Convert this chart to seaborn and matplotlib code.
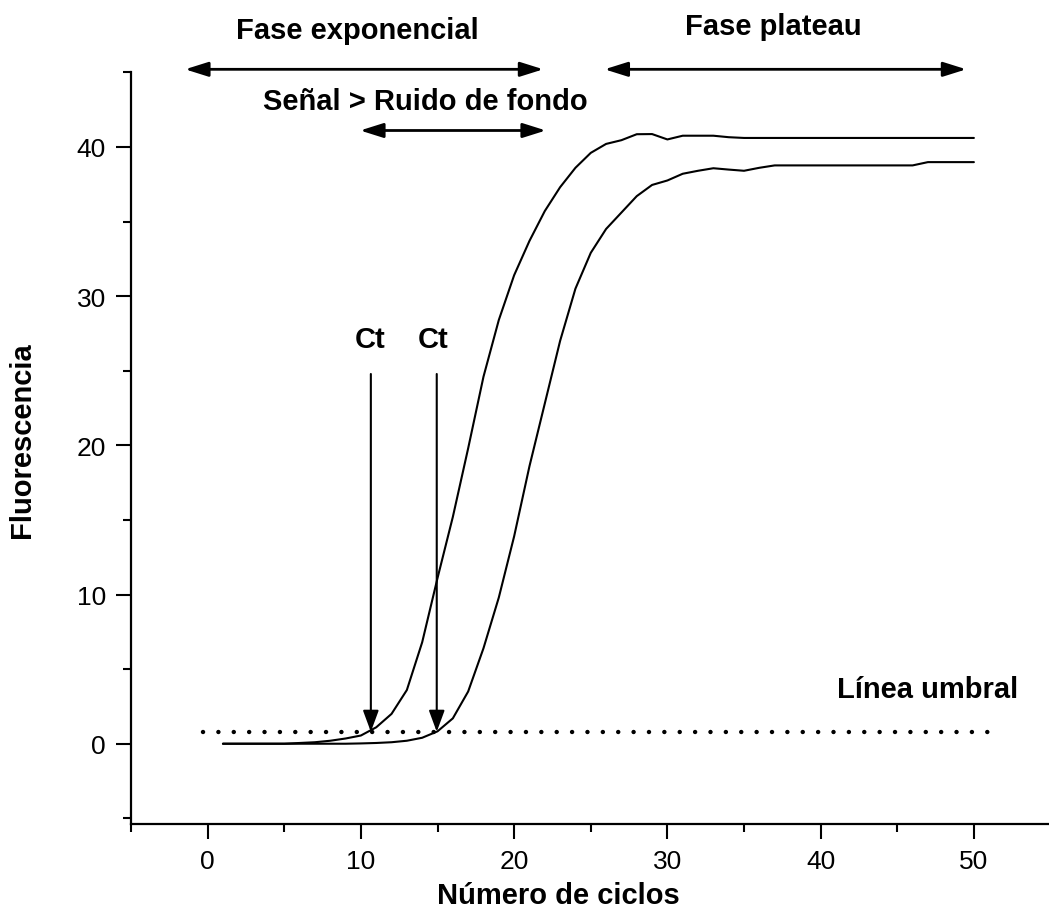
import matplotlib
matplotlib.use("Agg")
import matplotlib.pyplot as plt
from matplotlib.ticker import MultipleLocator
import seaborn as sns
import pandas as pd

sns.set_style("ticks")
plt.rcParams['font.family'] = ['Liberation Sans', 'DejaVu Sans']
plt.rcParams.update({'text.color': 'black', 'axes.labelcolor': 'black',
                     'xtick.color': 'black', 'ytick.color': 'black'})

# Curvas de amplificación (fluorescencia por ciclo)
ciclos = list(range(1, 51))
muestra_a = [0.0, 0.0, 0.0, 0.0, 0.0, 0.05, 0.1, 0.2, 0.35, 0.55,
             1.1, 2.0, 3.6, 6.8, 11.1, 15.2, 19.8, 24.6, 28.4, 31.4,
             33.7, 35.7, 37.3, 38.6, 39.6, 40.2, 40.45, 40.85, 40.86, 40.5,
             40.75, 40.75, 40.75, 40.65, 40.6, 40.6, 40.6, 40.6, 40.6, 40.6,
             40.6, 40.6, 40.6, 40.6, 40.6, 40.6, 40.6, 40.6, 40.6, 40.6]
muestra_b = [0.0, 0.0, 0.0, 0.0, 0.0, 0.0, 0.0, 0.0, 0.0, 0.02,
             0.05, 0.1, 0.2, 0.4, 0.83, 1.7, 3.5, 6.4, 9.8, 13.9,
             18.6, 22.8, 27.0, 30.5, 32.9, 34.5, 35.6, 36.7, 37.45, 37.75,
             38.2, 38.4, 38.57, 38.48, 38.4, 38.6, 38.76, 38.76, 38.76, 38.76,
             38.76, 38.76, 38.76, 38.76, 38.76, 38.76, 38.98, 38.98, 38.98, 38.98]

umbral = 0.8
umbral_x = [-0.3, 51.3]
ct_valores = [10.65, 14.95]

df = pd.DataFrame({
    "Ciclo": ciclos * 2,
    "Fluorescencia": muestra_a + muestra_b,
    "Muestra": ["A"] * len(ciclos) + ["B"] * len(ciclos),
})

fig = plt.figure(figsize=(10.49, 9.2), dpi=100)
ax = fig.add_axes([131 / 1049, 95 / 920, 918 / 1049, 752 / 920])

sns.lineplot(data=df, x="Ciclo", y="Fluorescencia", units="Muestra",
             estimator=None, color="black", linewidth=1.5, ax=ax, legend=False)

# Línea umbral punteada
ax.plot(umbral_x, [umbral, umbral], color="black", linewidth=3.2,
        linestyle=(0, (0.01, 3.45)), dash_capstyle="round")

ax.set_xlim(-5, 54.9)
ax.set_ylim(-5.38, 45.02)
ax.xaxis.set_major_locator(MultipleLocator(10))
ax.xaxis.set_minor_locator(MultipleLocator(5))
ax.yaxis.set_major_locator(MultipleLocator(10))
ax.yaxis.set_minor_locator(MultipleLocator(5))
ax.tick_params(which="major", length=11, width=1.5, labelsize=19, pad=7, color="black")
ax.tick_params(which="minor", length=5.5, width=1.5, color="black")
sns.despine(ax=ax)
for s in ["left", "bottom"]:
    ax.spines[s].set_linewidth(1.6)
    ax.spines[s].set_color("black")

ax.set_xlabel("Número de ciclos", fontsize=21, fontweight="bold")
ax.set_ylabel("Fluorescencia", fontsize=21, fontweight="bold")
ax.xaxis.label.set_va("center")
ax.yaxis.label.set_va("center")
ax.xaxis.set_label_coords(0.466, -0.095)
ax.yaxis.set_label_coords(-0.119, 0.512)

bold = dict(fontsize=21, fontweight="bold", ha="center", clip_on=False)

# Flechas de fases
flecha = dict(arrowstyle="<|-|>,head_length=0.7,head_width=0.22",
              color="black", lw=2, shrinkA=0, shrinkB=0, mutation_scale=20)
ax.annotate("", xy=(-1.47, 45.2), xytext=(21.9, 45.2), arrowprops=flecha,
            annotation_clip=False)
ax.annotate("", xy=(25.9, 45.2), xytext=(49.5, 45.2), arrowprops=flecha,
            annotation_clip=False)
ax.annotate("", xy=(9.95, 41.1), xytext=(22.07, 41.1), arrowprops=flecha,
            annotation_clip=False)

ax.text(9.75, 47.3, "Fase exponencial", va="baseline", **bold)
ax.text(36.9, 47.55, "Fase plateau", va="baseline", **bold)
ax.text(14.2, 43.1, "Señal > Ruido de fondo", va="center", **bold)

# Flechas Ct
flecha_ct = dict(arrowstyle="-|>,head_length=0.65,head_width=0.24",
                 color="black", lw=1.5, shrinkA=0, shrinkB=0, mutation_scale=20)
for ct, xt in zip(ct_valores, [10.6, 14.7]):
    ax.annotate("", xy=(ct, umbral), xytext=(ct, 24.78), arrowprops=flecha_ct)
    ax.text(xt, 27.1, "Ct", va="center", **bold)

ax.text(47.0, 3.67, "Línea umbral", va="center", **bold)

fig.savefig("out.png", dpi=100)
